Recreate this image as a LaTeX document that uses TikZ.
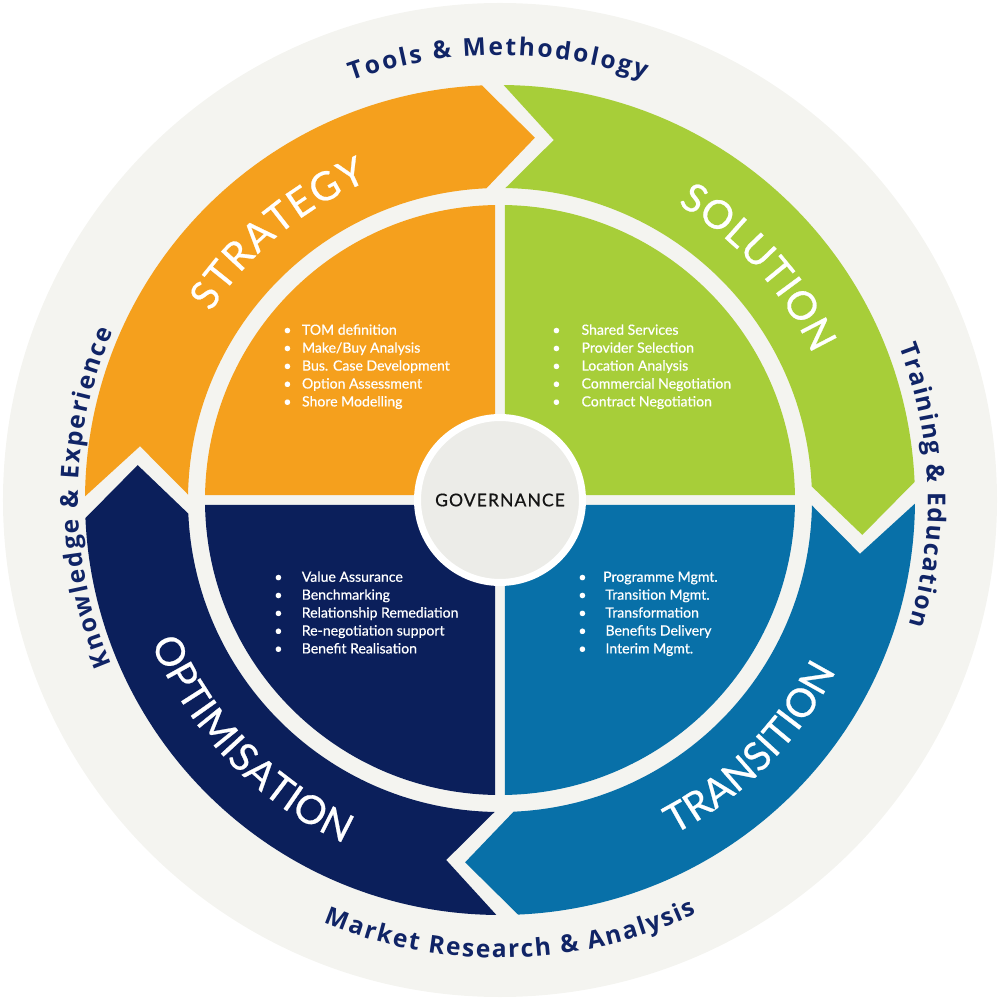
\documentclass[tikz,border=0pt]{standalone}
\usepackage{fontspec}
\setmainfont{Lato}
\newfontfamily\medfont[FakeBold=0.6]{Lato}
\newfontfamily\labelfamily{Open Sans}
\usepackage{xcolor}
\definecolor{stratcol}{RGB}{245,160,29}
\definecolor{solcol}{RGB}{167,206,57}
\definecolor{transcol}{RGB}{8,112,168}
\definecolor{optcol}{RGB}{11,31,91}
\definecolor{ringbg}{RGB}{244,244,240}
\definecolor{govfill}{RGB}{236,236,232}
\definecolor{labelcol}{RGB}{16,36,102}
\usepackage{tikz}
\usetikzlibrary{decorations.text}

\newcommand{\ringfont}{\medfont\fontsize{22.5pt}{26pt}\selectfont}
\newcommand{\labelfont}{\labelfamily\bfseries\fontsize{14pt}{17pt}\selectfont}
\newcommand{\listfont}{\medfont\fontsize{8pt}{10.2pt}\selectfont}

\begin{document}
\begin{tikzpicture}[
    x=0.02cm, y=0.02cm,
    blist/.style={anchor=west, text=white, font=\listfont, inner sep=0pt},
    govnode/.style={circle, fill=govfill, draw=white, line width=0.14cm, minimum size=3.3cm, font=\medfont\fontsize{10pt}{12pt}\selectfont, text=black!92},
    ringtitle/.style={decorate, decoration={text along path, text align=fit to path, text color=white}},
    outerlabel/.style={decorate, decoration={text along path, text align=fit to path, text color=labelcol}}
]
\useasboundingbox (-500,-500) rectangle (500,500);

% Background disk
\fill[ringbg] (0,0) circle[radius=497];

% Arrow ring
\foreach \col/\s in {stratcol/180, solcol/90, transcol/0, optcol/270} {
    \pgfmathsetmacro\b{\s-90}
    \fill[\col] ({\s-0.5}:415) arc[start angle=\s-0.5, end angle=\b+2.5, radius=415]
        -- ({\b-5.5}:364) -- ({\b+2.5}:312)
        arc[start angle=\b+2.5, end angle=\s-1, radius=312]
        -- ({\s-8.5}:364) -- cycle;
}

% Inner quadrants
\foreach \col/\a/\sx/\sy in {stratcol/90/-1/1, solcol/0/1/1, transcol/270/1/-1, optcol/180/-1/-1} {
    \fill[\col] (\sx*5,\sy*5) -- ({\a+0.97}:295)
        arc[start angle=\a+0.97, end angle=\a+89.03, radius=295] -- cycle;
}

% Centre
\node[govnode] (gov) at (0,0) {\addfontfeature{LetterSpace=6}GOVERNANCE};

% Lists
\node[blist] (stratlist) at (-217,133) {\begin{tabular}{@{}c@{\hspace{6pt}}l@{}}
    \textbullet & TOM definition\\
    \textbullet & Make/Buy Analysis\\
    \textbullet & Bus. Case Development\\
    \textbullet & Option Assessment\\
    \textbullet & Shore Modelling
\end{tabular}};
\node[blist] (sollist) at (52,133) {\begin{tabular}{@{}c@{\hspace{12pt}}l@{}}
    \textbullet & Shared Services\\
    \textbullet & Provider Selection\\
    \textbullet & Location Analysis\\
    \textbullet & Commercial Negotiation\\
    \textbullet & Contract Negotiation
\end{tabular}};
\node[blist] (optlist) at (-226,-114) {\begin{tabular}{@{}c@{\hspace{11pt}}l@{}}
    \textbullet & Value Assurance\\
    \textbullet & Benchmarking\\
    \textbullet & Relationship Remediation\\
    \textbullet & Re-negotiation support\\
    \textbullet & Benefit Realisation
\end{tabular}};
\node[blist] (translist) at (78,-114) {\begin{tabular}{@{}c@{\hspace{9.5pt}}l@{}}
    \textbullet & Programme Mgmt.\\
    \textbullet & \,Transition Mgmt.\\
    \textbullet & \,Transformation\\
    \textbullet & \,Benefits Delivery\\
    \textbullet & \,Interim Mgmt.
\end{tabular}};

% Ring titles
\path[ringtitle, decoration={text={|\ringfont|STRATEGY}}]
    (147:345) arc[start angle=147, end angle=112.5, radius=345];
\path[ringtitle, decoration={text={|\ringfont|SOLUTION}}]
    (59:345) arc[start angle=59, end angle=25, radius=345];
\path[ringtitle, decoration={text={|\ringfont|TRANSITION}}]
    (-62.5:377) arc[start angle=-62.5, end angle=-28, radius=377];
\path[ringtitle, decoration={text={|\ringfont|OPTIMISATION}}]
    (202.3:377) arc[start angle=202.3, end angle=245.6, radius=377];

% Outer labels
\path[outerlabel, decoration={text={|\labelfont|Tools {\&} Methodology}}]
    (109.5:445) arc[start angle=109.5, end angle=71, radius=445];
\path[outerlabel, decoration={text={|\labelfont|Training {\&} Education}}]
    (21:428) arc[start angle=21, end angle=-17, radius=428];
\path[outerlabel, decoration={text={|\labelfont|Market Research {\&} Analysis}}]
    (247.4:458) arc[start angle=247.4, end angle=295.4, radius=458];
\path[outerlabel, decoration={text={|\labelfont|Knowledge {\&} Experience}}]
    (203:422) arc[start angle=203, end angle=156.5, radius=422];

\end{tikzpicture}
\end{document}
